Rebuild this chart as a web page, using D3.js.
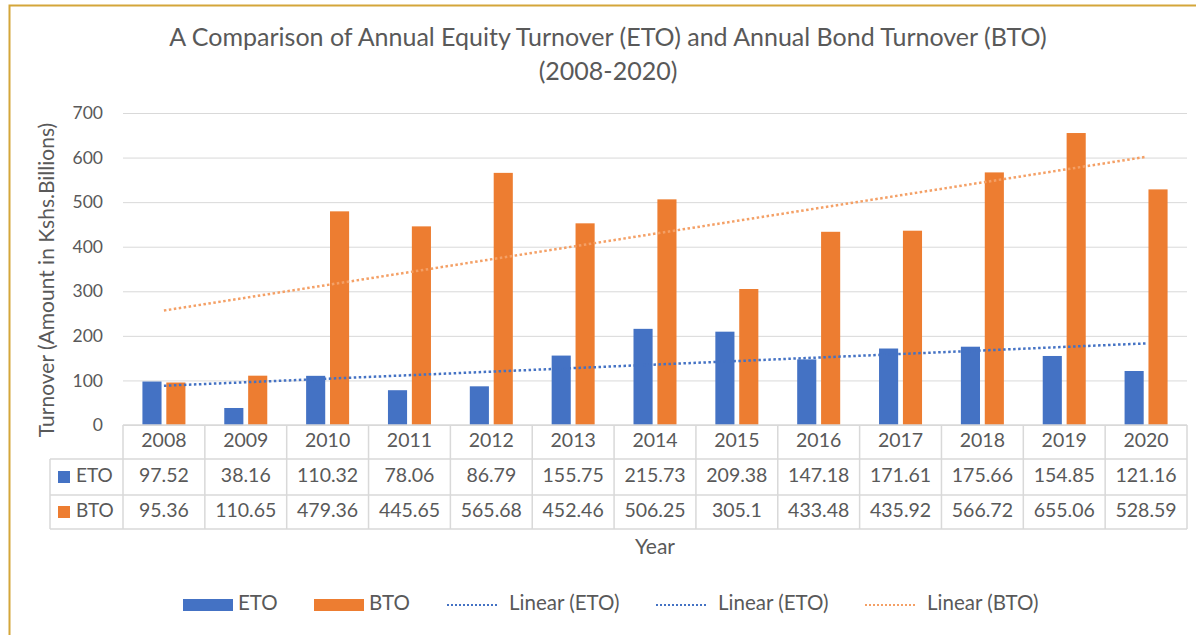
<!DOCTYPE html>
<html>
<head>
<meta charset="utf-8">
<script src="https://cdn.jsdelivr.net/npm/d3@7"></script>
<style>
  body { margin: 0; background: #fff; }
  svg { font-family: Lato, "Open Sans", sans-serif; }
</style>
</head>
<body>
<svg></svg>
<script>
let years = [ '2008', '2009', '2010', '2011', '2012', '2013', '2014', '2015', '2016', '2017', '2018', '2019', '2020' ]
let eto = [ 97.52, 38.16, 110.32, 78.06, 86.79, 155.75, 215.73, 209.38, 147.18, 171.61, 175.66, 154.85, 121.16 ]
let bto = [ 95.36, 110.65, 479.36, 445.65, 565.68, 452.46, 506.25, 305.1, 433.48, 435.92, 566.72, 655.06, 528.59 ]
let etoLabels = [ '97.52', '38.16', '110.32', '78.06', '86.79', '155.75', '215.73', '209.38', '147.18', '171.61', '175.66', '154.85', '121.16' ]
let btoLabels = [ '95.36', '110.65', '479.36', '445.65', '565.68', '452.46', '506.25', '305.1', '433.48', '435.92', '566.72', '655.06', '528.59' ]
let yTicks = [ 0, 100, 200, 300, 400, 500, 600, 700 ]

let width = 1196
let height = 635
let textColor = '#595959'
let gridColor = '#d9d9d9'
let colors = { ETO: '#4472C4', BTO: '#ED7D31' }

let svg =
d3.select( 'svg' )
  .attr( 'width', width )
  .attr( 'height', height )

// frame
svg.append( 'path' )
  .attr( 'd', `M9.5,${ height } V5.5 H${ width }` )
  .attr( 'fill', 'none' )
  .attr( 'stroke', '#d4a63a' )
  .attr( 'stroke-width', 2 )

const xScale =
d3.scaleBand()
  .domain( years )
  .range( [ 123, 1187 ] )

const yScale =
d3.scaleLinear()
  .domain( [ 0, 700 ] )
  .range( [ 425, 113 ] )

const inner =
d3.scaleBand()
  .domain( [ 'ETO', 'BTO' ] )
  .range( [ xScale.bandwidth() / 2 - 21.5, xScale.bandwidth() / 2 + 21.5 ] )
  .paddingInner( 0.2 )

// gridlines + y labels
let yAxis =
svg.append( 'g' )
  .attr( 'transform', 'translate(123,0)' )
  .call( d3.axisLeft( yScale ).tickValues( yTicks ).tickSize( -1064 ).tickPadding( 20 ) )

yAxis.select( '.domain' ).remove()
yAxis.selectAll( 'line' ).attr( 'stroke', gridColor )
yAxis.selectAll( 'text' )
  .attr( 'fill', textColor )
  .attr( 'font-size', 17.5 )
  .attr( 'font-family', 'Lato, sans-serif' )

// bars
let series = [
  { key: 'ETO', values: eto },
  { key: 'BTO', values: bto }
]

series.forEach( s => {
  svg.append( 'g' )
    .selectAll( 'rect' )
    .data( s.values )
    .enter()
    .append( 'rect' )
    .attr( 'x', ( d, i ) => xScale( years[ i ] ) + inner( s.key ) )
    .attr( 'width', inner.bandwidth() )
    .attr( 'y', d => yScale( d ) )
    .attr( 'height', d => yScale( 0 ) - yScale( d ) )
    .attr( 'fill', colors[ s.key ] )
} )

// linear trend lines (least squares over category index)
function trend( values ) {
  let n = values.length
  let xs = values.map( ( d, i ) => i + 1 )
  let mx = d3.mean( xs )
  let my = d3.mean( values )
  let b = d3.sum( xs, ( x, i ) => ( x - mx ) * ( values[ i ] - my ) ) / d3.sum( xs, x => ( x - mx ) ** 2 )
  let a = my - b * mx
  return [ a + b, a + b * n ]
}

let centre = y => xScale( y ) + xScale.bandwidth() / 2

series.forEach( s => {
  let t = trend( s.values )
  svg.append( 'line' )
    .attr( 'x1', centre( years[ 0 ] ) )
    .attr( 'x2', centre( years[ years.length - 1 ] ) )
    .attr( 'y1', yScale( t[ 0 ] ) )
    .attr( 'y2', yScale( t[ 1 ] ) )
    .attr( 'stroke', s.key === 'ETO' ? '#4472C4' : '#F4A066' )
    .attr( 'stroke-width', 2.5 )
    .attr( 'stroke-dasharray', '2.5 2.5' )
} )

// data table
let rows = [ 425, 459, 495, 529 ]
let tableLines = svg.append( 'g' ).attr( 'stroke', gridColor ).attr( 'stroke-width', 1.5 )

tableLines.append( 'line' ).attr( 'x1', 123 ).attr( 'x2', 1187 ).attr( 'y1', rows[ 0 ] ).attr( 'y2', rows[ 0 ] )
rows.slice( 1 ).forEach( r => {
  tableLines.append( 'line' ).attr( 'x1', 50 ).attr( 'x2', 1187 ).attr( 'y1', r ).attr( 'y2', r )
} )
tableLines.append( 'line' ).attr( 'x1', 50 ).attr( 'x2', 50 ).attr( 'y1', rows[ 1 ] ).attr( 'y2', rows[ 3 ] )
years.concat( [ null ] ).forEach( ( y, i ) => {
  let x = y ? xScale( y ) : xScale( years[ years.length - 1 ] ) + xScale.bandwidth()
  tableLines.append( 'line' ).attr( 'x1', x ).attr( 'x2', x ).attr( 'y1', rows[ 0 ] ).attr( 'y2', rows[ 3 ] )
} )

let cellText = ( labels, yPos ) => {
  svg.append( 'g' )
    .selectAll( 'text' )
    .data( labels )
    .enter()
    .append( 'text' )
    .text( d => d )
    .attr( 'x', ( d, i ) => centre( years[ i ] ) )
    .attr( 'y', yPos )
    .attr( 'text-anchor', 'middle' )
    .attr( 'dominant-baseline', 'middle' )
    .attr( 'font-size', 19.5 )
    .attr( 'fill', textColor )
}

cellText( years, 442 )
cellText( etoLabels, 477 )
cellText( btoLabels, 512 )

let rowKeys = [ { key: 'ETO', y: 477 }, { key: 'BTO', y: 512 } ]
rowKeys.forEach( r => {
  svg.append( 'rect' )
    .attr( 'x', 58 ).attr( 'y', r.y - 6 )
    .attr( 'width', 12 ).attr( 'height', 12 )
    .attr( 'fill', colors[ r.key ] )
  svg.append( 'text' )
    .text( r.key )
    .attr( 'x', 76 ).attr( 'y', r.y )
    .attr( 'dominant-baseline', 'middle' )
    .attr( 'font-size', 19 )
    .attr( 'fill', textColor )
} )

// titles
svg.append( 'text' )
  .text( 'A Comparison of Annual Equity Turnover (ETO) and Annual Bond Turnover (BTO)' )
  .attr( 'x', 608 ).attr( 'y', 46 )
  .attr( 'text-anchor', 'middle' )
  .attr( 'font-size', 25 )
  .attr( 'fill', textColor )

svg.append( 'text' )
  .text( '(2008-2020)' )
  .attr( 'x', 608 ).attr( 'y', 80 )
  .attr( 'text-anchor', 'middle' )
  .attr( 'font-size', 25 )
  .attr( 'fill', textColor )

svg.append( 'text' )
  .text( 'Year' )
  .attr( 'x', 655 ).attr( 'y', 554 )
  .attr( 'text-anchor', 'middle' )
  .attr( 'font-size', 21 )
  .attr( 'fill', textColor )

svg.append( 'text' )
  .text( 'Turnover (Amount in Kshs.Billions)' )
  .attr( 'transform', 'translate(54,280) rotate(-90)' )
  .attr( 'text-anchor', 'middle' )
  .attr( 'font-size', 21 )
  .attr( 'fill', textColor )

// legend
let legendItems = [
  { label: 'ETO', x: 183, type: 'bar', color: colors.ETO },
  { label: 'BTO', x: 314, type: 'bar', color: colors.BTO },
  { label: 'Linear (ETO)', x: 447, type: 'line', color: '#4472C4' },
  { label: 'Linear (ETO)', x: 656, type: 'line', color: '#4472C4' },
  { label: 'Linear (BTO)', x: 865, type: 'line', color: '#F4A066' }
]

let legend =
svg.selectAll( '.legend' )
  .data( legendItems )
  .enter()
  .append( 'g' )
  .attr( 'transform', d => `translate(${ d.x },605)` )

legend.filter( d => d.type === 'bar' )
  .append( 'rect' )
  .attr( 'x', 0 ).attr( 'y', -6 )
  .attr( 'width', 50 ).attr( 'height', 12 )
  .attr( 'fill', d => d.color )

legend.filter( d => d.type === 'line' )
  .append( 'line' )
  .attr( 'x1', 0 ).attr( 'x2', 52 )
  .attr( 'y1', 0 ).attr( 'y2', 0 )
  .attr( 'stroke', d => d.color )
  .attr( 'stroke-width', 2 )
  .attr( 'stroke-dasharray', '2 2' )

legend.append( 'text' )
  .text( d => d.label )
  .attr( 'x', d => d.type === 'bar' ? 55 : 62 )
  .attr( 'y', 0 )
  .attr( 'dominant-baseline', 'middle' )
  .attr( 'font-size', 20.5 )
  .attr( 'fill', textColor )
</script>
</body>
</html>
